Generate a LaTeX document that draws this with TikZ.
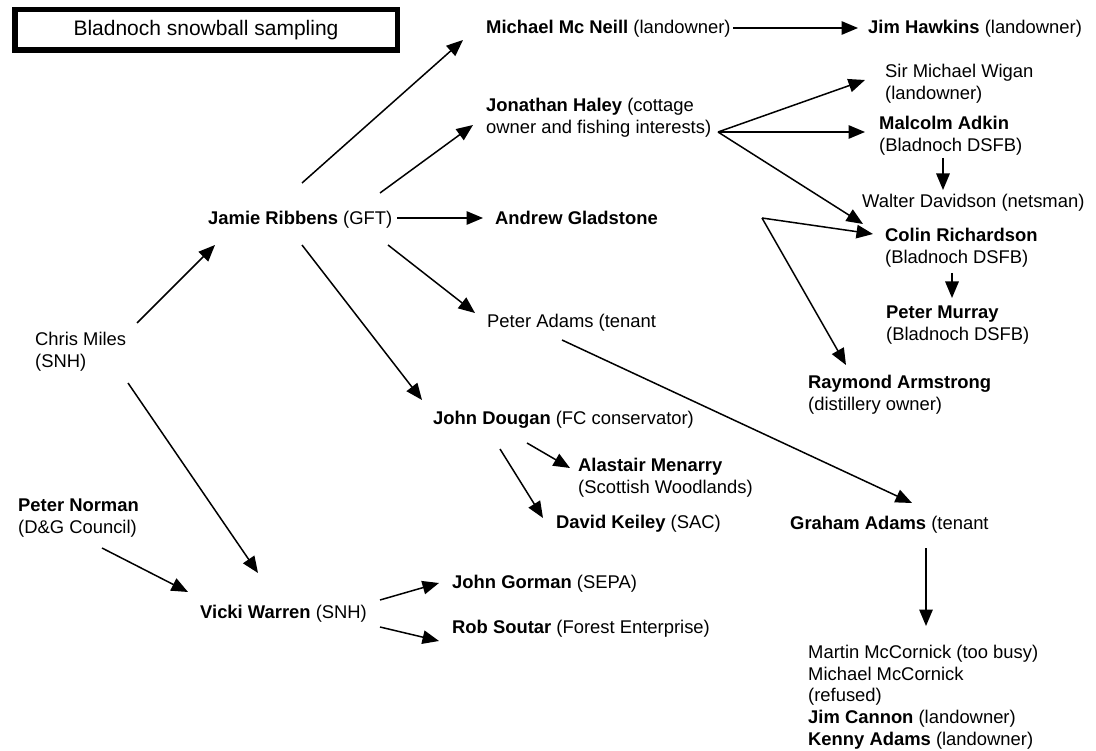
\documentclass[tikz,border=0pt]{standalone}
\usepackage{fontspec}
\setmainfont{Liberation Sans}
\usetikzlibrary{arrows.meta}
\newcommand{\twolines}[2]{\begin{tabular}[t]{@{}l@{}}#1\\#2\end{tabular}}
\begin{document}
\begin{tikzpicture}[x=1pt,y=-1pt,
  person/.style={anchor=base west, inner sep=0pt, font=\fontsize{18.4}{21.7}\selectfont},
  link/.style={line width=1.5pt, -{Triangle[length=16.5pt,width=13.5pt]}},
  titlebox/.style={draw, line width=5.5pt, minimum width=382.5pt, minimum height=40.5pt,
                   inner sep=0pt, text height=14pt, text depth=3pt,
                   font=\fontsize{21}{24}\selectfont}]
\useasboundingbox[fill=white] (0,0) rectangle (1096,751);

% title
\node[titlebox] (title) at (206,30) {Bladnoch snowball sampling};

% people
\node[person] (michael)  at (486,34)    {\textbf{Michael Mc Neill} (landowner)};
\node[person] (jim)      at (868,34)    {\textbf{Jim Hawkins} (landowner)};
\node[person] (jonathan) at (486,112)   {\twolines{\textbf{Jonathan Haley} (cottage}{owner and fishing interests)}};
\node[person] (wigan)    at (885,78)    {\twolines{Sir Michael Wigan}{(landowner)}};
\node[person] (malcolm)  at (879,129.5) {\twolines{\textbf{Malcolm Adkin}}{(Bladnoch DSFB)}};
\node[person] (walter)   at (862,208)   {Walter Davidson (netsman)};
\node[person] (jamie)    at (208,224.5) {\textbf{Jamie Ribbens} (GFT)};
\node[person] (andrew)   at (495,224.5) {\textbf{Andrew Gladstone}};
\node[person] (colin)    at (885,241.5) {\twolines{\textbf{Colin Richardson}}{(Bladnoch DSFB)}};
\node[person] (peterm)   at (886,318.5) {\twolines{\textbf{Peter Murray}}{(Bladnoch DSFB)}};
\node[person] (petera)   at (487,328)   {Peter Adams (tenant};
\node[person] (chris)    at (35,345.5)  {\twolines{Chris Miles}{(SNH)}};
\node[person] (raymond)  at (808,388.5) {\twolines{\textbf{Raymond Armstrong}}{(distillery owner)}};
\node[person] (dougan)   at (433,424.5) {\textbf{John Dougan} (FC conservator)};
\node[person] (alastair) at (578,471.5) {\twolines{\textbf{Alastair Menarry}}{(Scottish Woodlands)}};
\node[person] (norman)   at (18,511.5)  {\twolines{\textbf{Peter Norman}}{(D\&G Council)}};
\node[person] (keiley)   at (556,528.5) {\textbf{David Keiley} (SAC)};
\node[person] (graham)   at (790,529)   {\textbf{Graham Adams} (tenant};
\node[person] (vicki)    at (200,618.5) {\textbf{Vicki Warren} (SNH)};
\node[person] (gorman)   at (452,588.5) {\textbf{John Gorman} (SEPA)};
\node[person] (soutar)   at (452,633.5) {\textbf{Rob Soutar} (Forest Enterprise)};
\node[person] (list)     at (808,658.5) {\begin{tabular}[t]{@{}l@{}}
  Martin McCornick (too busy)\\
  Michael McCornick\\
  (refused)\\
  \textbf{Jim Cannon} (landowner)\\
  \textbf{Kenny Adams} (landowner)
\end{tabular}};

% shared start of the two arrows towards Colin and Raymond
\coordinate (fork) at (762,218);

% referrals
\draw[link] ([shift={(102,-22.5)}]chris.base west)  -- ([shift={(7,20.5)}]jamie.base west);
\draw[link] ([shift={(94,-41.5)}]jamie.base west)   -- ([shift={(-23,6)}]michael.base west);
\draw[link] ([shift={(172,-31.5)}]jamie.base west)  -- ([shift={(-13,13)}]jonathan.base west);
\draw[link] ([shift={(189,-6.5)}]jamie.base west)   -- ([shift={(-12,-6.5)}]andrew.base west);
\draw[link] ([shift={(180,20.5)}]jamie.base west)   -- ([shift={(-12,-15)}]petera.base west);
\draw[link] ([shift={(94,20.5)}]jamie.base west)    -- ([shift={(-11,-24.5)}]dougan.base west);
\draw[link] ([shift={(247,-6)}]michael.base west)   -- ([shift={(-10,-6)}]jim.base west);
\draw[link] ([shift={(232,20)}]jonathan.base west)  -- ([shift={(-20,2)}]wigan.base west);
\draw[link] ([shift={(232,20)}]jonathan.base west)  -- ([shift={(-14,2.5)}]malcolm.base west);
\draw[link] ([shift={(232,20)}]jonathan.base west)  -- ([shift={(-22,-17.5)}]colin.base west);
\draw[link] ([shift={(64,28.5)}]malcolm.base west)  -- ([shift={(81,-18)}]walter.base west);
\draw[link] (fork) -- ([shift={(-12,-7.5)}]colin.base west);
\draw[link] (fork) -- ([shift={(38,-23.5)}]raymond.base west);
\draw[link] ([shift={(67,31.5)}]colin.base west)    -- ([shift={(66,-20.5)}]peterm.base west);
\draw[link] ([shift={(75,12)}]petera.base west)     -- ([shift={(122,-26)}]graham.base west);
\draw[link] ([shift={(93,37.5)}]chris.base west)    -- ([shift={(58,-45.5)}]vicki.base west);
\draw[link] ([shift={(84,36.5)}]norman.base west)   -- ([shift={(-12,-26.5)}]vicki.base west);
\draw[link] ([shift={(180,-18.5)}]vicki.base west)  -- ([shift={(-13,-5.5)}]gorman.base west);
\draw[link] ([shift={(180,8.5)}]vicki.base west)    -- ([shift={(-13,7.5)}]soutar.base west);
\draw[link] ([shift={(94,18.5)}]dougan.base west)   -- ([shift={(-8,-3.5)}]alastair.base west);
\draw[link] ([shift={(67,24.5)}]dougan.base west)   -- ([shift={(-13,-10.5)}]keiley.base west);
\draw[link] ([shift={(136,19)}]graham.base west)    -- ([shift={(118,-32.5)}]list.base west);
\end{tikzpicture}
\end{document}
